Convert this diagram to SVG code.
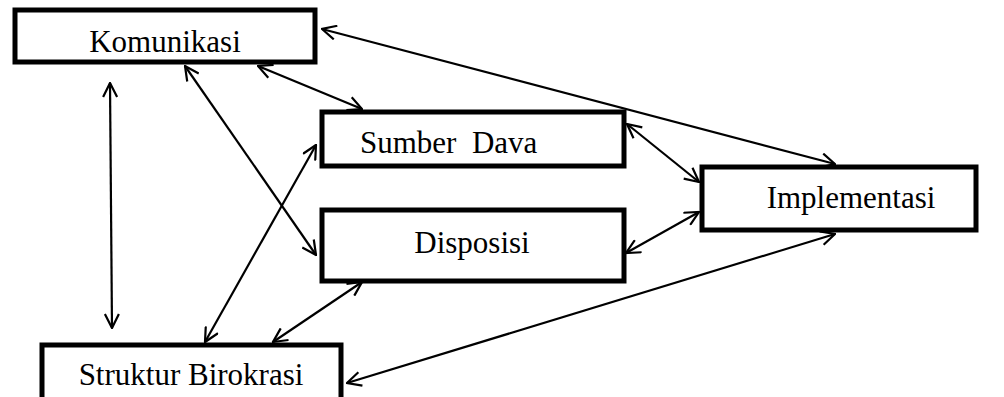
<svg xmlns="http://www.w3.org/2000/svg" width="1004" height="397" viewBox="0 0 1004 397">
<style>
.box{fill:#fff;stroke:#000;stroke-width:5}
.lbl{font-family:"Liberation Serif","Times New Roman","DejaVu Serif",serif;font-size:31px;fill:#000}
.c{stroke:#000;stroke-width:2.2;fill:none;marker-start:url(#ah);marker-end:url(#ah)}
</style>
<defs>
<marker id="ah" viewBox="0 0 16 16" refX="15" refY="8" markerWidth="16" markerHeight="16" markerUnits="userSpaceOnUse" orient="auto-start-reverse">
<path d="M1,1 L15,8 L1,15" fill="none" stroke="#000" stroke-width="2.2"/>
</marker>
</defs>
<rect width="1004" height="397" fill="#fff"/>
<g id="connectors">
<line class="c" x1="322" y1="29" x2="835" y2="164"/>
<line class="c" x1="258" y1="66" x2="362" y2="109"/>
<line class="c" x1="185" y1="66" x2="316" y2="255"/>
<line class="c" x1="110" y1="83" x2="112" y2="328"/>
<line class="c" x1="316" y1="145" x2="205" y2="342"/>
<line class="c" x1="362" y1="282" x2="273" y2="342"/>
<line class="c" x1="627" y1="124" x2="699" y2="182"/>
<line class="c" x1="626" y1="253" x2="699" y2="212"/>
<line class="c" x1="835" y1="234" x2="347" y2="383"/>
</g>
<g id="komunikasi">
<rect class="box" x="15" y="10" width="300" height="52"/>
<text class="lbl" x="165" y="52" text-anchor="middle">Komunikasi</text>
</g>
<g id="sumber-dava">
<rect class="box" x="322" y="112" width="302" height="54"/>
<text class="lbl" x="360" y="153" xml:space="preserve">Sumber  Dava</text>
</g>
<g id="disposisi">
<rect class="box" x="322" y="210" width="302" height="71"/>
<text class="lbl" x="472" y="253" text-anchor="middle">Disposisi</text>
</g>
<g id="implementasi">
<rect class="box" x="702" y="167" width="274" height="63"/>
<text class="lbl" x="851" y="208" text-anchor="middle">Implementasi</text>
</g>
<g id="struktur-birokrasi">
<rect class="box" x="42" y="345" width="299" height="60"/>
<text class="lbl" x="191" y="385" text-anchor="middle">Struktur Birokrasi</text>
</g>
</svg>
